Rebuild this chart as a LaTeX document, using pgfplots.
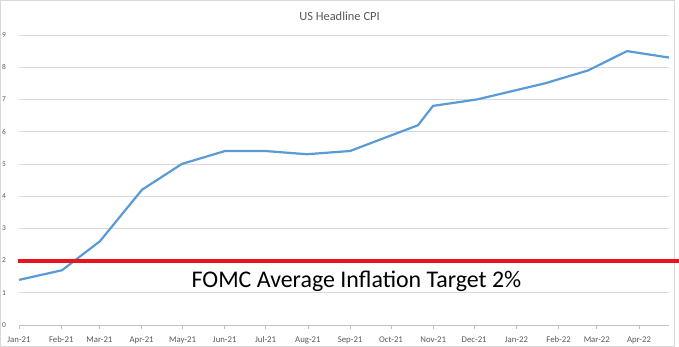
\documentclass[border=0pt]{standalone}
\usepackage{pgfplots}
\pgfplotsset{compat=1.18}
\usepackage{fontspec}
\setmainfont{Carlito}
\definecolor{cpiblue}{HTML}{5B9BD5}
\definecolor{gridgray}{HTML}{D9D9D9}
\definecolor{axgray}{HTML}{BFBFBF}
\definecolor{txtgray}{HTML}{595959}
\definecolor{fomcred}{HTML}{E8141B}
\begin{document}
\begin{tikzpicture}
\useasboundingbox (0,0) rectangle (679bp,347bp);
\fill[white] (0,0) rectangle (679bp,347bp);
\draw[gridgray, line width=0.75bp] (0.5bp,0.5bp) rectangle (674.5bp,346.5bp);
\begin{axis}[
  at={(19bp,22bp)}, anchor=south west, scale only axis,
  width=650bp, height=290bp,
  xmin=0, xmax=477, ymin=0, ymax=9,
  clip=false,
  axis x line*=bottom, axis y line*=left,
  x axis line style={axgray, line width=0.75bp, -},
  y axis line style={draw=none},
  ymajorgrids, grid style={gridgray, line width=0.75bp},
  ytick={0,1,...,9},
  ytick style={draw=none},
  yticklabel style={font=\fontsize{7.5}{9}\selectfont, text=txtgray, anchor=center, xshift=-11bp},
  xtick={0,31,59,90,120,151,181,212,243,273,304,334,365,396,424,455},
  xticklabels={Jan-21,Feb-21,Mar-21,Apr-21,May-21,Jun-21,Jul-21,Aug-21,Sep-21,Oct-21,Nov-21,Dec-21,Jan-22,Feb-22,Mar-22,Apr-22},
  xtick style={axgray, line width=0.75bp},
  tick align=outside, major tick length=4bp,
  xticklabel style={font=\fontsize{8.8}{10}\selectfont, text=txtgray, anchor=base, yshift=-13.7bp},
  /pgf/number format/assume math mode=true,
]
\addplot[cpiblue, line width=2.2bp, line join=round, mark=none] coordinates {
  (0,1.4) (31.6,1.7) (59.4,2.6) (90.3,4.2) (119.6,5.0) (151.2,5.4)
  (180.5,5.4) (211.3,5.3) (242.9,5.4) (292.8,6.2) (303.8,6.8) (336.1,7.0)
  (386,7.5) (417.6,7.9) (446.2,8.5) (477,8.3)
};
\addplot[fomcred, line width=4bp, mark=none] coordinates {(-0.73,2) (484.3,2)};
\end{axis}
\node[font=\fontsize{12.5}{15}\selectfont, text=txtgray, anchor=base] at (339.5bp,326.3bp) {US Headline CPI};
\node[font=\fontsize{24}{28}\selectfont, text=black, anchor=base] at (356.5bp,59.3bp) {FOMC Average Inflation Target 2\%};
\end{tikzpicture}
\end{document}
